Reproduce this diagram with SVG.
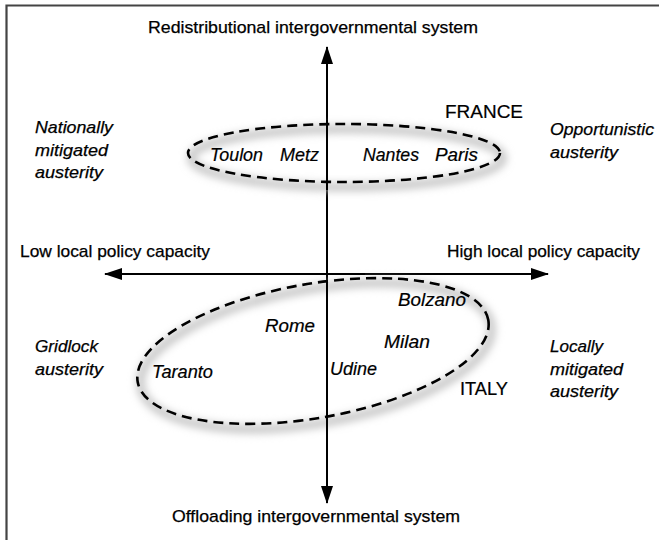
<svg xmlns="http://www.w3.org/2000/svg" width="659" height="540" viewBox="0 0 659 540">
<defs>
<style>
.lbl{font-family:"Liberation Sans",Arial,sans-serif;font-size:17px;fill:#000;stroke:#000;stroke-width:0.25}
.it{font-family:"Liberation Sans",Arial,sans-serif;font-size:17px;font-style:italic;fill:#000;stroke:#000;stroke-width:0.25}
.city{font-family:"Liberation Sans",Arial,sans-serif;font-size:17.5px;font-style:italic;fill:#000;stroke:#000;stroke-width:0.2}
.ctry{font-family:"Liberation Sans",Arial,sans-serif;font-size:18px;fill:#000;stroke:#000;stroke-width:0.2}
.axis{stroke:#000;stroke-width:2;fill:none}
.dash{fill:none;stroke:#000;stroke-width:2.6;stroke-dasharray:10 6}
.shadow{fill:none;stroke:#bbb;stroke-width:7;filter:url(#blur)}
</style>
<filter id="blur" x="-20%" y="-40%" width="140%" height="180%"><feGaussianBlur stdDeviation="4"/></filter>
<marker id="ah" viewBox="0 0 18 12" refX="17" refY="6" markerWidth="18" markerHeight="12" markerUnits="userSpaceOnUse" orient="auto"><path d="M0,0 L18,6 L0,12 Z" fill="#000"/></marker>
</defs>
<rect x="0" y="0" width="659" height="540" fill="#fff"/>
<path d="M6.5,540 V5.5 H659" fill="none" stroke="#444" stroke-width="2.2"/>

<g id="connectors">
<line class="axis" x1="327" y1="275" x2="327" y2="47" marker-end="url(#ah)"/>
<line class="axis" x1="327" y1="273" x2="327" y2="503" marker-end="url(#ah)"/>
<line class="axis" x1="327" y1="274" x2="105" y2="274" marker-end="url(#ah)"/>
<line class="axis" x1="327" y1="274" x2="548" y2="274" marker-end="url(#ah)"/>
</g>

<g id="axis-labels">
<text class="lbl" x="148" y="33" textLength="330" lengthAdjust="spacingAndGlyphs">Redistributional intergovernmental system</text>
<text class="lbl" x="172" y="522" textLength="288" lengthAdjust="spacingAndGlyphs">Offloading intergovernmental system</text>
<text class="lbl" x="20" y="257" textLength="190" lengthAdjust="spacingAndGlyphs">Low local policy capacity</text>
<text class="lbl" x="447" y="257" textLength="193" lengthAdjust="spacingAndGlyphs">High local policy capacity</text>
</g>

<g id="quadrant-labels">
<text class="it" x="35" y="133" textLength="78" lengthAdjust="spacingAndGlyphs">Nationally</text>
<text class="it" x="35" y="156" textLength="73" lengthAdjust="spacingAndGlyphs">mitigated</text>
<text class="it" x="35" y="178" textLength="68" lengthAdjust="spacingAndGlyphs">austerity</text>
<text class="it" x="550" y="135" textLength="104" lengthAdjust="spacingAndGlyphs">Opportunistic</text>
<text class="it" x="550" y="158" textLength="68" lengthAdjust="spacingAndGlyphs">austerity</text>
<text class="it" x="35" y="352" textLength="63" lengthAdjust="spacingAndGlyphs">Gridlock</text>
<text class="it" x="35" y="375" textLength="68" lengthAdjust="spacingAndGlyphs">austerity</text>
<text class="it" x="550" y="352" textLength="53" lengthAdjust="spacingAndGlyphs">Locally</text>
<text class="it" x="550" y="375" textLength="73" lengthAdjust="spacingAndGlyphs">mitigated</text>
<text class="it" x="550" y="397" textLength="68" lengthAdjust="spacingAndGlyphs">austerity</text>
</g>

<g id="france">
<ellipse class="shadow" cx="347" cy="158" rx="156" ry="29"/>
<ellipse class="dash" cx="344" cy="153" rx="156" ry="29"/>
<line class="axis" x1="327" y1="120" x2="327" y2="190"/>
<text class="ctry" x="445" y="118" textLength="78" lengthAdjust="spacingAndGlyphs">FRANCE</text>
<text class="city" x="210" y="161" textLength="53" lengthAdjust="spacingAndGlyphs">Toulon</text>
<text class="city" x="280" y="161" textLength="39" lengthAdjust="spacingAndGlyphs">Metz</text>
<text class="city" x="363" y="161" textLength="56" lengthAdjust="spacingAndGlyphs">Nantes</text>
<text class="city" x="435" y="161" textLength="43" lengthAdjust="spacingAndGlyphs">Paris</text>
</g>

<g id="italy">
<ellipse class="shadow" cx="316" cy="356" rx="178" ry="67" transform="rotate(-10 316 356)"/>
<ellipse class="dash" cx="313" cy="351" rx="178" ry="67" transform="rotate(-10 313 351)"/>
<line class="axis" x1="327" y1="280" x2="327" y2="440"/>
<line class="axis" x1="290" y1="274" x2="365" y2="274"/>
<text class="ctry" x="460" y="395" textLength="48" lengthAdjust="spacingAndGlyphs">ITALY</text>
<text class="city" x="265" y="332" textLength="50" lengthAdjust="spacingAndGlyphs">Rome</text>
<text class="city" x="152" y="378" textLength="61" lengthAdjust="spacingAndGlyphs">Taranto</text>
<text class="city" x="330" y="375" textLength="47" lengthAdjust="spacingAndGlyphs">Udine</text>
<text class="city" x="384" y="348" textLength="46" lengthAdjust="spacingAndGlyphs">Milan</text>
<text class="city" x="398" y="306" textLength="68" lengthAdjust="spacingAndGlyphs">Bolzano</text>
</g>
</svg>
